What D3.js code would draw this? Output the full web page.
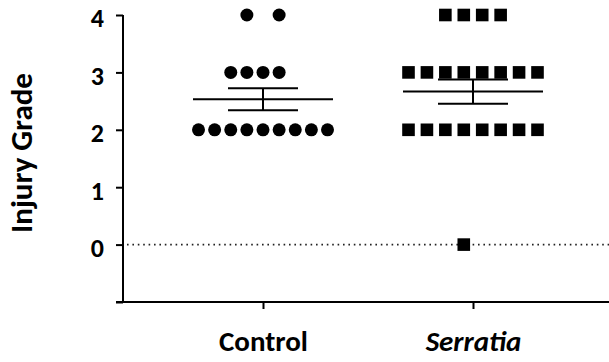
<!DOCTYPE html>
<html>
<head>
<meta charset="utf-8">
<script src="https://cdn.jsdelivr.net/npm/d3@7"></script>
<style>
  body { margin: 0; background: #fff; }
  svg text { font-family: Calibri, Carlito, Lato, sans-serif; font-weight: bold; fill: #000; }
</style>
</head>
<body>
<div id="chart"></div>
<script>
// injury grade per animal
var groups = ['Control', 'Serratia'];
var control = [4, 4, 3, 3, 3, 3, 2, 2, 2, 2, 2, 2, 2, 2, 2];
var serratia = [4, 4, 4, 4, 3, 3, 3, 3, 3, 3, 3, 3, 2, 2, 2, 2, 2, 2, 2, 2, 0];
var yTicks = [0, 1, 2, 3, 4];

var width = 609, height = 362;
var margin = { top: 15, right: 0, bottom: 60, left: 123 };

var svg = d3.select('#chart').append('svg')
  .attr('width', width)
  .attr('height', height);

var y = d3.scaleLinear()
  .domain([-1, 4])
  .range([height - margin.bottom, margin.top]);

var x = d3.scalePoint()
  .domain(groups)
  .range([263, 473]);

// dotted baseline at 0
svg.append('line')
  .attr('x1', margin.left + 4).attr('x2', width)
  .attr('y1', y(0)).attr('y2', y(0))
  .attr('stroke', '#222')
  .attr('stroke-width', 1.6)
  .attr('stroke-dasharray', '1.6,3.8');

// rows of points, GraphPad-ish layout
function layout(values) {
  var counts = d3.rollup(values, v => v.length, d => d);
  var maxN = d3.max(Array.from(counts.values()));
  var step = 129 / (maxN - 1);
  var out = [];
  counts.forEach(function(n, v) {
    var offs = [];
    if ((n % 2) === (maxN % 2)) {
      for (var i = 0; i < n; i++) offs.push(i - (n - 1) / 2);
    } else if (n === 2) {
      offs = [-1, 1];
    } else {
      for (var j = 0; j < n; j++) offs.push(j - (n - 1) / 2 - 0.5);
    }
    offs.forEach(function(o) { out.push({ value: v, dx: o * step }); });
  });
  return out;
}

function stats(values) {
  var m = d3.mean(values);
  var sem = d3.deviation(values) / Math.sqrt(values.length);
  return { mean: m, lo: m - sem, hi: m + sem };
}

var cx = x('Control');
svg.append('g').selectAll('circle')
  .data(layout(control))
  .enter().append('circle')
  .attr('cx', d => cx + d.dx)
  .attr('cy', d => y(d.value))
  .attr('r', 6.5)
  .attr('fill', '#000');

var sx = x('Serratia');
var sq = 12.6;
svg.append('g').selectAll('rect')
  .data(layout(serratia))
  .enter().append('rect')
  .attr('x', d => sx + d.dx - sq / 2)
  .attr('y', d => y(d.value) - sq / 2)
  .attr('width', sq)
  .attr('height', sq)
  .attr('fill', '#000');

// mean +/- SEM
[['Control', control], ['Serratia', serratia]].forEach(function(g) {
  var s = stats(g[1]);
  var c = x(g[0]);
  var e = svg.append('g').attr('stroke', '#000').attr('stroke-width', 2);
  e.append('line').attr('x1', c - 70).attr('x2', c + 70).attr('y1', y(s.mean)).attr('y2', y(s.mean));
  e.append('line').attr('x1', c - 35).attr('x2', c + 35).attr('y1', y(s.hi)).attr('y2', y(s.hi));
  e.append('line').attr('x1', c - 35).attr('x2', c + 35).attr('y1', y(s.lo)).attr('y2', y(s.lo));
  e.append('line').attr('x1', c).attr('x2', c).attr('y1', y(s.hi)).attr('y2', y(s.lo));
});

// axes
var yAxis = svg.append('g')
  .attr('transform', 'translate(' + margin.left + ',0)')
  .call(d3.axisLeft(y).tickValues([-1].concat(yTicks)).tickSize(7).tickPadding(12)
    .tickFormat(d => d < 0 ? '' : d));
yAxis.select('.domain').attr('d', 'M0,' + y(4) + 'V' + y(-1));
yAxis.selectAll('line, path').attr('stroke', '#000').attr('stroke-width', 2);
yAxis.selectAll('text')
  .attr('dy', '0.46em')
  .style('font-size', '26px').style('font-family', null);

var xAxis = svg.append('g')
  .attr('transform', 'translate(0,' + y(-1) + ')')
  .call(d3.axisBottom(x).tickSize(7).tickPadding(21));
xAxis.select('.domain').attr('d', 'M' + (margin.left - 7) + ',0H' + width);
xAxis.selectAll('line, path').attr('stroke', '#000').attr('stroke-width', 2);
xAxis.selectAll('text')
  .style('font-size', '29px').style('font-family', null)
  .style('font-style', d => d === 'Serratia' ? 'italic' : 'normal');

svg.append('text')
  .attr('transform', 'translate(32,153) rotate(-90)')
  .attr('text-anchor', 'middle')
  .style('font-size', '31px')
  .text('Injury Grade');
</script>
</body>
</html>
